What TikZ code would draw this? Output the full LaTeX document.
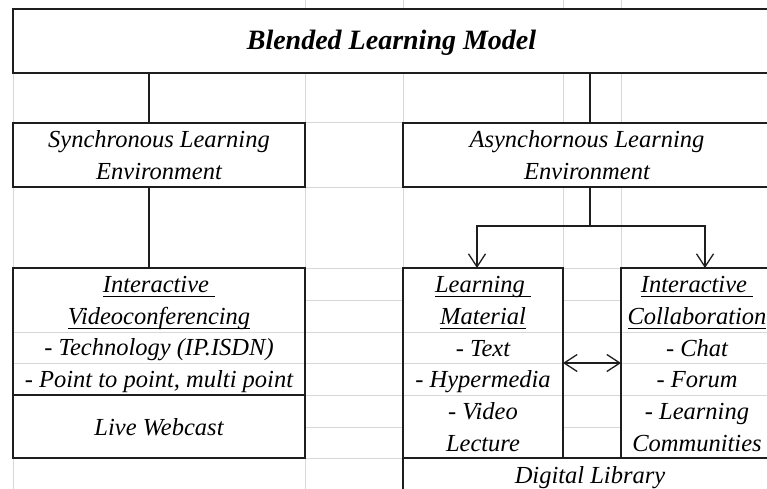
\documentclass[tikz,border=0pt]{standalone}
\usepackage{fontspec}
\setmainfont{Liberation Serif}
\usetikzlibrary{arrows.meta}

\definecolor{gridgray}{RGB}{216,216,216}
\definecolor{inkblack}{RGB}{30,30,30}
\newcommand{\cs}{\rule[-5pt]{0pt}{27pt}}
% underlined heading words (trailing space included)
\newcommand{\undl}[1]{\setbox0\hbox{#1}\rlap{\rule[-4.5pt]{\wd0}{1.3pt}}\box0}

\begin{document}
\begin{tikzpicture}[x=1pt, y=-1pt,
  grid/.style={draw=gridgray, line width=1pt},
  frame/.style={draw=inkblack, line width=2.2pt},
  link/.style={draw=inkblack, line width=1.3pt},
  cell/.style={inner sep=0pt, outer sep=0pt, align=center,
    font=\fontsize{24.5}{32}\selectfont\itshape,
    execute at begin node=\cs, execute at end node=\cs},
  merged/.style={cell, fill=white},
  >={Straight Barb[length=13pt, width=17pt]}]

  % Page area
  \useasboundingbox (0,0) rectangle (767,489);
  \clip (0,0) rectangle (767,489);

  % Spreadsheet columns
  \draw[grid] (13,9) -- (13,489);
  \foreach \gx in {305,403,563,621}
    \draw[grid] (\gx,0) -- (\gx,489);

  % Top level
  \node[merged, font=\fontsize{28}{32}\selectfont\bfseries\itshape,
    minimum width=757pt, minimum height=64pt] (title) at (391.5,41) {Blended Learning Model};
  \node[merged, minimum width=292pt, minimum height=64pt] (sync) at (159,155) {\cs Synchronous Learning\\\cs Environment};
  \node[merged, minimum width=368pt, minimum height=64pt] (async) at (587,155) {\cs Asynchornous Learning\\\cs Environment};

  % Synchronous column
  \node[merged, minimum width=292pt, minimum height=64pt] (ivc) at (159,300) {\cs\undl{Interactive\ }\\\cs\undl{Videoconferencing}};
  \node[cell, minimum width=292pt, minimum height=31pt] (tech) at (159,347.5) {- Technology (IP.ISDN)};
  \node[cell, minimum width=292pt, minimum height=32pt] (p2p) at (159,379) {- Point to point, multi point};
  \node[merged, minimum width=292pt, minimum height=63pt] (live) at (159,426.5) {Live Webcast};

  % Asynchronous columns
  \node[merged, minimum width=160pt, minimum height=64pt] (lm) at (483,300) {\cs\undl{Learning\ }\\\cs\undl{Material}};
  \node[cell, minimum width=160pt, minimum height=31pt] (txt) at (483,347.5) {- Text};
  \node[cell, minimum width=160pt, minimum height=32pt] (hyp) at (483,379) {- Hypermedia};
  \node[merged, minimum width=160pt, minimum height=63pt] (vid) at (483,426.5) {\cs - Video\\\cs Lecture};

  \node[merged, minimum width=152pt, minimum height=64pt] (ic) at (697,300) {\cs\undl{Interactive\ }\\\cs\undl{Collaboration}};
  \node[cell, minimum width=152pt, minimum height=31pt] (chat) at (697,347.5) {- Chat};
  \node[cell, minimum width=152pt, minimum height=32pt] (forum) at (697,379) {- Forum};
  \node[merged, minimum width=152pt, minimum height=63pt] (comm) at (697,426.5) {\cs - Learning\\\cs Communities};

  \node[merged, minimum width=374pt, minimum height=34pt] (dl) at (590,475) {Digital Library};

  % Spreadsheet rows
  \foreach \gy in {332,363,395}
    \draw[grid] (13,\gy) -- (767,\gy);
  \foreach \gy in {123,187,268,300,427,458}
    \draw[grid] (305,\gy) -- (403,\gy);
  \foreach \gy in {268,300,427}
    \draw[grid] (563,\gy) -- (621,\gy);

  % Cell borders
  \draw[frame] (title.north west) rectangle (title.south east);
  \draw[frame] (sync.north west) rectangle (sync.south east);
  \draw[frame] (async.north west) rectangle (async.south east);
  \draw[frame] (ivc.north west) rectangle (p2p.south east);
  \draw[frame] (live.north west) rectangle (live.south east);
  \draw[frame] (lm.north west) rectangle (vid.south east);
  \draw[frame] (ic.north west) rectangle (comm.south east);
  \draw[frame] (dl.north west) rectangle (dl.south east);

  % Connectors
  \coordinate (lx) at (149,0);
  \coordinate (rx) at (590,0);
  \coordinate (split) at (590,226);
  \draw[link] (title.south -| lx) -- (sync.north -| lx);
  \draw[link] (sync.south -| lx) -- (ivc.north -| lx);
  \draw[link] (title.south -| rx) -- (async.north -| rx);
  \draw[link] (async.south -| rx) -- (split);
  \draw[link, ->] (split) -| ([xshift=-6pt]lm.north);
  \draw[link, ->] (split) -| ([xshift=8pt]ic.north);
  \draw[link, <->] (txt.south east) -- (chat.south west);

\end{tikzpicture}
\end{document}
